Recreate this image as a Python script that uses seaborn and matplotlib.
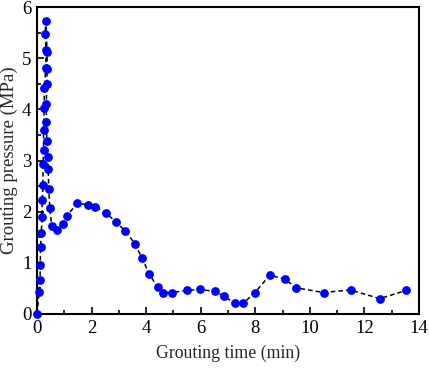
import matplotlib
matplotlib.use("Agg")
import matplotlib.pyplot as plt
import seaborn as sns
import pandas as pd
from matplotlib.ticker import MultipleLocator

time_min = [0.0, 0.08, 0.11, 0.12, 0.13, 0.16, 0.18, 0.19, 0.22, 0.22, 0.24, 0.24, 0.26,
            0.27, 0.32, 0.33, 0.30, 0.32,
            0.37, 0.37, 0.36, 0.34, 0.34, 0.36, 0.40, 0.41, 0.43, 0.47, 0.54, 0.72,
            0.94, 1.09, 1.48, 1.87, 2.12, 2.54, 2.89, 3.24, 3.59, 3.85, 4.11, 4.42, 4.60,
            4.95, 5.48, 5.97, 6.53, 6.84, 7.25, 7.56, 7.99, 8.53, 9.08, 9.51, 10.5,
            11.49, 12.56, 13.52]
pressure = [0.0, 0.43, 0.66, 0.96, 1.31, 1.58, 1.89, 2.22, 2.52, 2.93, 3.20, 3.59, 4.02,
            4.41, 4.80, 5.16, 5.47, 5.72,
            5.12, 4.79, 4.50, 4.10, 3.75, 3.38, 3.07, 2.83, 2.44, 2.07, 1.72, 1.64,
            1.76, 1.92, 2.16, 2.14, 2.10, 1.97, 1.80, 1.62, 1.37, 1.09, 0.79, 0.52, 0.42,
            0.42, 0.46, 0.48, 0.44, 0.35, 0.21, 0.21, 0.42, 0.76, 0.68, 0.51, 0.42,
            0.47, 0.30, 0.46]

df = pd.DataFrame({"t": time_min, "p": pressure, "order": range(len(time_min))})

sns.set_style("ticks")
plt.rcParams['font.family'] = ['Liberation Serif', 'DejaVu Serif']
plt.rcParams['mathtext.fontset'] = 'stix'

fig = plt.figure(figsize=(4.29, 3.68), dpi=100)
ax = fig.add_axes([37/429, 1-314/368, (419-37)/429, (314-7)/368])

sns.lineplot(data=df, x="t", y="p", sort=False, ax=ax, color="black",
             linestyle=(0, (3, 2)), linewidth=1.1, estimator=None)
sns.scatterplot(data=df, x="t", y="p", ax=ax, color="#0000FF", s=40,
                edgecolor="#0000FF", linewidth=0, zorder=3, clip_on=False)

ax.set_xlim(0, 14)
ax.set_ylim(0, 6)
ax.xaxis.set_major_locator(MultipleLocator(2))
ax.xaxis.set_minor_locator(MultipleLocator(1))
ax.yaxis.set_major_locator(MultipleLocator(1))
ax.yaxis.set_minor_locator(MultipleLocator(0.5))
ax.tick_params(which='both', direction='in', top=False, right=False, labelsize=13.5,
               width=1.2, colors='black')
ax.tick_params(which='major', length=5, pad=4)
ax.tick_params(which='minor', length=3)
for s in ax.spines.values():
    s.set_linewidth(1.5)
    s.set_color('black')
ax.set_xlabel("Grouting time (min)", fontsize=12.8)
ax.set_ylabel("Grouting pressure (MPa)", fontsize=13.5)
ax.xaxis.labelpad = 6
ax.yaxis.labelpad = 3

fig.savefig("out.png", dpi=100)
